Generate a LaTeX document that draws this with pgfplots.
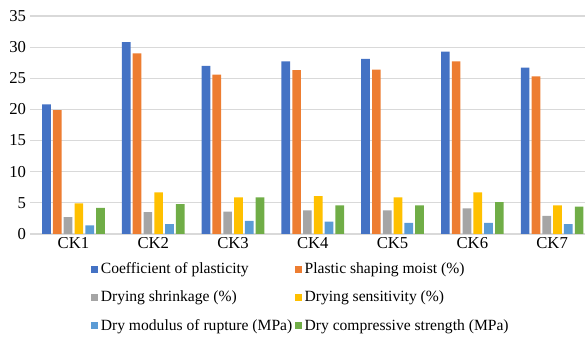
\documentclass[border=0pt]{standalone}
\usepackage{pgfplots}
\pgfplotsset{compat=1.18}
\usepackage{fontspec}
\setmainfont{Liberation Serif}

\definecolor{cBlue}{HTML}{4472C4}
\definecolor{cOrange}{HTML}{ED7D31}
\definecolor{cGray}{HTML}{A5A5A5}
\definecolor{cYellow}{HTML}{FFC000}
\definecolor{cLight}{HTML}{5B9BD5}
\definecolor{cGreen}{HTML}{70AD47}
\definecolor{gridc}{HTML}{D9D9D9}

\pgfplotstableread{
x  plast  moist  shrink  sens  rupt  comp
0  20.8   19.9   2.7     4.9   1.4   4.2
1  30.8   29.0   3.5     6.7   1.6   4.8
2  27.0   25.6   3.6     5.9   2.1   5.9
3  27.7   26.3   3.8     6.1   2.0   4.6
4  28.1   26.4   3.8     5.9   1.8   4.6
5  29.3   27.7   4.1     6.7   1.8   5.1
6  26.7   25.3   2.9     4.6   1.6   4.4
}\datatable

\begin{document}
\begin{tikzpicture}
\useasboundingbox (-22.5pt,-78pt) rectangle (416.25pt,175.5pt);
\begin{axis}[
  scale only axis,
  width=421.5pt, height=163.5pt,
  ybar=1.6pt,
  bar width=6.5pt,
  xmin=-0.545, xmax=6.5,
  ymin=0, ymax=35,
  ytick={0,5,...,35},
  xtick=data,
  xticklabels={CK1,CK2,CK3,CK4,CK5,CK6,CK7},
  major tick length=0pt,
  ymajorgrids,
  grid style={gridc, line width=0.8pt},
  axis line style={draw=none},
  every axis plot/.append style={draw=none},
  ticklabel style={font=\fontsize{12.5}{14}\selectfont},
  /pgf/number format/assume math mode=true,
  yticklabel style={xshift=0.5pt},
  xticklabel style={yshift=1pt},
  legend columns=2,
  legend cell align=left,
  legend style={
    at={(axis description cs:0.1085,-0.118)}, anchor=north west,
    draw=none, fill=none, inner sep=0pt,
    font=\fontsize{11.7}{13}\selectfont,
    row sep=7.6pt,
    /tikz/every odd column/.append style={column sep=0pt},
  },
  legend image code/.code={
    \fill[#1] (0pt,-2.6pt) rectangle (5.2pt,2.6pt);
  },
]
\addplot[fill=cBlue]   table[x=x,y=plast]  {\datatable};
\addplot[fill=cOrange] table[x=x,y=moist]  {\datatable};
\addplot[fill=cGray]   table[x=x,y=shrink] {\datatable};
\addplot[fill=cYellow] table[x=x,y=sens]   {\datatable};
\addplot[fill=cLight]  table[x=x,y=rupt]   {\datatable};
\addplot[fill=cGreen]  table[x=x,y=comp]   {\datatable};
\legend{Coefficient of plasticity, Plastic shaping moist (\%),
        Drying shrinkage (\%), Drying sensitivity (\%),
        Dry modulus of rupture (MPa), Dry compressive strength (MPa)}
\end{axis}
\end{tikzpicture}
\end{document}
